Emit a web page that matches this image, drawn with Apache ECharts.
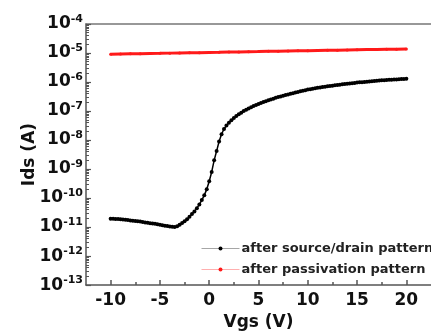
<!DOCTYPE html>
<html>
<head>
<meta charset="utf-8">
<script src="https://cdn.jsdelivr.net/npm/echarts@6/dist/echarts.min.js"></script>
<style>
  html, body { margin: 0; padding: 0; background: #fff; }
  #chart { width: 431px; height: 336px; }
</style>
</head>
<body>
<div id="chart"></div>
<script>
// Vgs sweep of the source/drain curve, -10 .. 20 V in 0.25 V steps
const vgsSD = [
  -10, -9.75, -9.5, -9.25, -9, -8.75, -8.5, -8.25, -8, -7.75, -7.5, -7.25, -7, -6.75, -6.5, -6.25,
  -6, -5.75, -5.5, -5.25, -5, -4.75, -4.5, -4.25, -4, -3.75, -3.5, -3.25, -3, -2.75, -2.5, -2.25,
  -2, -1.75, -1.5, -1.25, -1, -0.75, -0.5, -0.25, 0, 0.25, 0.5, 0.75, 1, 1.25, 1.5, 1.75,
  2, 2.25, 2.5, 2.75, 3, 3.25, 3.5, 3.75, 4, 4.25, 4.5, 4.75, 5, 5.25, 5.5, 5.75,
  6, 6.25, 6.5, 6.75, 7, 7.25, 7.5, 7.75, 8, 8.25, 8.5, 8.75, 9, 9.25, 9.5, 9.75,
  10, 10.25, 10.5, 10.75, 11, 11.25, 11.5, 11.75, 12, 12.25, 12.5, 12.75, 13, 13.25, 13.5, 13.75,
  14, 14.25, 14.5, 14.75, 15, 15.25, 15.5, 15.75, 16, 16.25, 16.5, 16.75, 17, 17.25, 17.5, 17.75,
  18, 18.25, 18.5, 18.75, 19, 19.25, 19.5, 19.75, 20
]

// Ids (A) after source/drain pattern
const idsSD = [
  1.95e-11, 1.93e-11, 1.91e-11, 1.88e-11, 1.86e-11, 1.82e-11, 1.78e-11, 1.74e-11, 1.70e-11, 1.66e-11, 1.62e-11, 1.58e-11, 1.55e-11, 1.50e-11, 1.45e-11, 1.41e-11,
  1.36e-11, 1.32e-11, 1.29e-11, 1.24e-11, 1.20e-11, 1.16e-11, 1.12e-11, 1.08e-11, 1.05e-11, 1.02e-11, 1.00e-11, 1.07e-11, 1.20e-11, 1.38e-11, 1.58e-11, 1.86e-11,
  2.29e-11, 2.82e-11, 3.47e-11, 4.47e-11, 6.03e-11, 8.51e-11, 1.26e-10, 2.00e-10, 3.80e-10, 7.94e-10, 2.00e-9, 4.17e-9, 8.91e-9, 1.58e-8, 2.40e-8, 3.16e-8,
  3.98e-8, 4.79e-8, 5.75e-8, 6.76e-8, 7.76e-8, 8.81e-8, 1.00e-7, 1.11e-7, 1.23e-7, 1.35e-7, 1.48e-7, 1.60e-7, 1.74e-7, 1.88e-7, 2.04e-7, 2.19e-7,
  2.34e-7, 2.51e-7, 2.66e-7, 2.85e-7, 3.02e-7, 3.20e-7, 3.35e-7, 3.55e-7, 3.72e-7, 3.94e-7, 4.12e-7, 4.37e-7, 4.57e-7, 4.79e-7, 5.01e-7, 5.25e-7,
  5.50e-7, 5.69e-7, 5.89e-7, 6.10e-7, 6.31e-7, 6.46e-7, 6.68e-7, 6.92e-7, 7.08e-7, 7.24e-7, 7.50e-7, 7.76e-7, 7.94e-7, 8.13e-7, 8.32e-7, 8.51e-7,
  8.71e-7, 8.91e-7, 9.12e-7, 9.33e-7, 9.55e-7, 9.77e-7, 9.89e-7, 1.01e-6, 1.02e-6, 1.05e-6, 1.06e-6, 1.08e-6, 1.10e-6, 1.12e-6, 1.14e-6, 1.16e-6,
  1.17e-6, 1.19e-6, 1.20e-6, 1.22e-6, 1.23e-6, 1.24e-6, 1.26e-6, 1.27e-6, 1.29e-6
]

// Vgs sweep of the passivation curve, 1 V steps
const vgsPV = [
  -10, -9, -8, -7, -6, -5, -4, -3, -2, -1, 0, 1, 2, 3, 4, 5,
  6, 7, 8, 9, 10, 11, 12, 13, 14, 15, 16, 17, 18, 19, 20
]

// Ids (A) after passivation pattern
const idsPV = [
  9.12e-6, 9.25e-6, 9.38e-6, 9.51e-6, 9.64e-6, 9.77e-6, 9.91e-6, 1.005e-5, 1.02e-5, 1.03e-5, 1.05e-5, 1.06e-5, 1.08e-5, 1.09e-5, 1.11e-5, 1.12e-5,
  1.14e-5, 1.15e-5, 1.17e-5, 1.19e-5, 1.20e-5, 1.22e-5, 1.24e-5, 1.25e-5, 1.27e-5, 1.29e-5, 1.31e-5, 1.32e-5, 1.34e-5, 1.36e-5, 1.38e-5
]

const xTicks = [-10, -5, 0, 5, 10, 15, 20]
const xMinorTicks = [-7.5, -2.5, 2.5, 7.5, 12.5, 17.5]
const yExponents = [-13, -12, -11, -10, -9, -8, -7, -6, -5, -4]

const FONT = 'DejaVu Sans'
const AXIS_COLOR = '#555'

// log minor ticks at 2..9 of each decade
const yMinorTicks = []
yExponents.slice(0, -1).forEach(e => {
  for (let k = 2; k <= 9; k++) yMinorTicks.push(k * Math.pow(10, e))
})

const chart = echarts.init(document.getElementById('chart'))

const xBase = {
  type: 'value',
  min: -12.5,
  max: 22.5,
  gridIndex: 0,
  splitLine: { show: false }
}

chart.setOption({
  animation: false,
  backgroundColor: '#fff',
  grid: { left: 86, top: 24, right: -10, bottom: 50 },
  legend: {
    orient: 'vertical',
    left: 196,
    top: 237,
    itemWidth: 38,
    itemHeight: 5,
    itemGap: 8,
    lineStyle: { width: 1, opacity: 0.35 },
    textStyle: { fontFamily: FONT, fontWeight: 'bold', fontSize: 13, color: '#222', padding: [0, 0, 0, -3] },
    data: ['after source/drain pattern', 'after passivation pattern']
  },
  xAxis: [
    {
      ...xBase,
      position: 'bottom',
      name: 'Vgs (V)',
      nameLocation: 'middle',
      nameGap: 27,
      nameTextStyle: { fontFamily: FONT, fontWeight: 'bold', fontSize: 17, color: '#111' },
      axisLine: { show: true, onZero: false, lineStyle: { color: AXIS_COLOR, width: 1.5 } },
      axisTick: { show: true, inside: true, length: 5, customValues: xTicks, lineStyle: { color: AXIS_COLOR, width: 1.5 } },
      axisLabel: {
        customValues: xTicks,
        margin: 7,
        fontFamily: FONT, fontWeight: 'bold', fontSize: 17, color: '#111'
      }
    },
    {
      ...xBase,
      position: 'bottom',
      axisLine: { show: false, onZero: false },
      axisTick: { show: true, inside: true, length: 3, customValues: xMinorTicks, lineStyle: { color: AXIS_COLOR, width: 1.5 } },
      axisLabel: { show: false }
    },
    {
      ...xBase,
      position: 'top',
      axisLine: { show: true, onZero: false, lineStyle: { color: '#777', width: 1.5 } },
      axisTick: { show: false },
      axisLabel: { show: false }
    }
  ],
  yAxis: [
    {
      type: 'log',
      logBase: 10,
      min: 1e-13,
      max: 1e-4,
      interval: 1,
      position: 'left',
      name: 'Ids (A)',
      nameLocation: 'middle',
      nameGap: 48,
      nameMoveOverlap: false,
      nameTextStyle: { fontFamily: FONT, fontWeight: 'bold', fontSize: 17, color: '#111' },
      splitLine: { show: false },
      axisLine: { show: true, onZero: false, lineStyle: { color: AXIS_COLOR, width: 1.5 } },
      axisTick: { show: true, inside: true, length: 5, lineStyle: { color: AXIS_COLOR, width: 1.2 } },
      axisLabel: {
        margin: 3,
        formatter: v => '{b|10}{s|' + Math.round(Math.log10(v)) + '}',
        rich: {
          b: { fontFamily: FONT, fontWeight: 'bold', fontSize: 17, color: '#111' },
          s: { fontFamily: FONT, fontWeight: 'bold', fontSize: 11, color: '#111', padding: [0, 0, 9, 0] }
        }
      }
    },
    {
      type: 'log',
      logBase: 10,
      min: 1e-13,
      max: 1e-4,
      position: 'left',
      splitLine: { show: false },
      axisLine: { show: false, onZero: false },
      axisTick: { show: true, inside: true, length: 3, customValues: yMinorTicks, lineStyle: { color: AXIS_COLOR, width: 1 } },
      axisLabel: { show: false }
    }
  ],
  series: [
    {
      name: 'after source/drain pattern',
      type: 'line',
      xAxisIndex: 0,
      yAxisIndex: 0,
      data: vgsSD.map((v, i) => [v, idsSD[i]]),
      symbol: 'circle',
      symbolSize: 4,
      showSymbol: true,
      showAllSymbol: true,
      lineStyle: { color: '#000', width: 1.5 },
      itemStyle: { color: '#000' }
    },
    {
      name: 'after passivation pattern',
      type: 'line',
      xAxisIndex: 0,
      yAxisIndex: 0,
      data: vgsPV.map((v, i) => [v, idsPV[i]]),
      symbol: 'circle',
      symbolSize: 3,
      showSymbol: true,
      showAllSymbol: true,
      lineStyle: { color: '#ff1a1a', width: 3 },
      itemStyle: { color: '#ff1a1a' }
    }
  ]
})
</script>
</body>
</html>
